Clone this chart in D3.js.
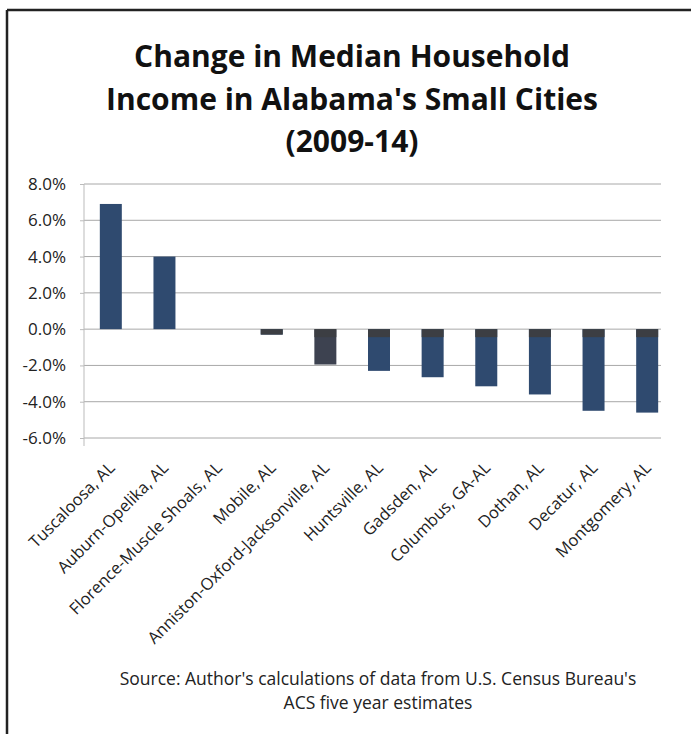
<!DOCTYPE html>
<html>
  <head>
    <meta charset="utf-8" />
    <script src="https://cdn.jsdelivr.net/npm/d3@7"></script>
    <style>
      body { margin: 0; background: #fff; }
      text { font-family: "Open Sans", sans-serif; fill: #222; }
      .title { font-weight: bold; font-size: 30px; fill: #111; }
      .grid line { stroke: #a8a8a8; stroke-width: 1; }
    </style>
  </head>
  <body>
    <script type="text/javascript">

        // data
        var cities = ["Tuscaloosa, AL", "Auburn-Opelika, AL", "Florence-Muscle Shoals, AL",
                      "Mobile, AL", "Anniston-Oxford-Jacksonville, AL", "Huntsville, AL",
                      "Gadsden, AL", "Columbus, GA-AL", "Dothan, AL", "Decatur, AL", "Montgomery, AL"];
        var change = [6.9, 4.0, 0.0, -0.3, -1.95, -2.3, -2.65, -3.15, -3.6, -4.5, -4.6];
        var yTicks = [8, 6, 4, 2, 0, -2, -4, -6];
        var titleLines = ["Change in Median Household", "Income in Alabama's Small Cities", "(2009-14)"];
        var sourceLines = ["Source: Author's calculations of data from U.S. Census Bureau's",
                           "ACS five year estimates"];

        var width = 691, height = 734;

        var svg = d3.select("body").append("svg")
            .attr("width", width)
            .attr("height", height);

        // frame (only top and left edges show in the scan)
        svg.append("line")
            .attr("x1", 7).attr("x2", width).attr("y1", 10).attr("y2", 10)
            .attr("stroke", "#222").attr("stroke-width", 2.5);
        svg.append("line")
            .attr("x1", 7).attr("x2", 7).attr("y1", 10).attr("y2", height)
            .attr("stroke", "#222").attr("stroke-width", 2.5);

        svg.selectAll("text.title")
            .data(titleLines)
            .enter().append("text")
            .attr("class", "title")
            .attr("x", 352)
            .attr("y", function(d, i) { return 67 + i * 42.5; })
            .attr("text-anchor", "middle")
            .text(function(d) { return d; });

        var left = 84, right = 674, plotRight = 661;

        var y = d3.scaleLinear().domain([-6, 8]).range([438, 184]);
        var x = d3.scaleBand().domain(cities).range([left, right])
            .paddingInner(0.59).paddingOuter(0.295);

        // gridlines
        svg.append("g").attr("class", "grid")
            .selectAll("line")
            .data(yTicks)
            .enter().append("line")
            .attr("x1", left).attr("x2", plotRight)
            .attr("y1", function(d) { return y(d); })
            .attr("y2", function(d) { return y(d); });

        // y axis
        var yAxis = d3.axisLeft(y)
            .tickValues(yTicks)
            .tickSize(4)
            .tickFormat(function(d) { return d.toFixed(1) + "%"; });
        var ga = svg.append("g")
            .attr("transform", "translate(" + left + ",0)")
            .call(yAxis);
        ga.select(".domain").attr("stroke", "#bbb").attr("d", "M0," + y(8) + "V" + (y(-6) + 8));
        ga.selectAll(".tick line").attr("stroke", "#bbb");
        ga.selectAll(".tick text")
            .attr("x", -18)
            .style("font-size", "17px")
            .style("fill", "#222");

        // bars
        var bars = svg.append("g");
        bars.selectAll("rect.bar")
            .data(change)
            .enter().append("rect")
            .attr("class", "bar")
            .attr("x", function(d, i) { return x(cities[i]); })
            .attr("width", x.bandwidth())
            .attr("y", function(d) { return y(Math.max(0, d)); })
            .attr("height", function(d) { return Math.abs(y(d) - y(0)); })
            .attr("fill", function(d, i) { return i == 4 ? "#3d4250" : "#2f4a6f"; });

        // darker cap just below the zero line on the falling bars
        bars.selectAll("rect.cap")
            .data(change.filter(function(d) { return d < 0; }))
            .enter().append("rect")
            .attr("class", "cap")
            .attr("x", function(d) { return x(cities[change.indexOf(d)]); })
            .attr("width", x.bandwidth())
            .attr("y", y(0))
            .attr("height", function(d) { return Math.min(8, y(d) - y(0)); })
            .attr("fill", "#3c3e43");

        // category labels
        svg.append("g")
            .selectAll("text")
            .data(cities)
            .enter().append("text")
            .attr("transform", function(d) {
                return "translate(" + (x(d) + x.bandwidth() / 2 + 5) + ",469) rotate(-45)";
            })
            .attr("text-anchor", "end")
            .style("font-size", "16.5px")
            .text(function(d) { return d; });

        // source note
        svg.selectAll("text.source")
            .data(sourceLines)
            .enter().append("text")
            .attr("class", "source")
            .attr("x", 378)
            .attr("y", function(d, i) { return 685 + i * 24; })
            .attr("text-anchor", "middle")
            .style("font-size", "17.5px")
            .text(function(d) { return d; });

    </script>
  </body>
</html>
